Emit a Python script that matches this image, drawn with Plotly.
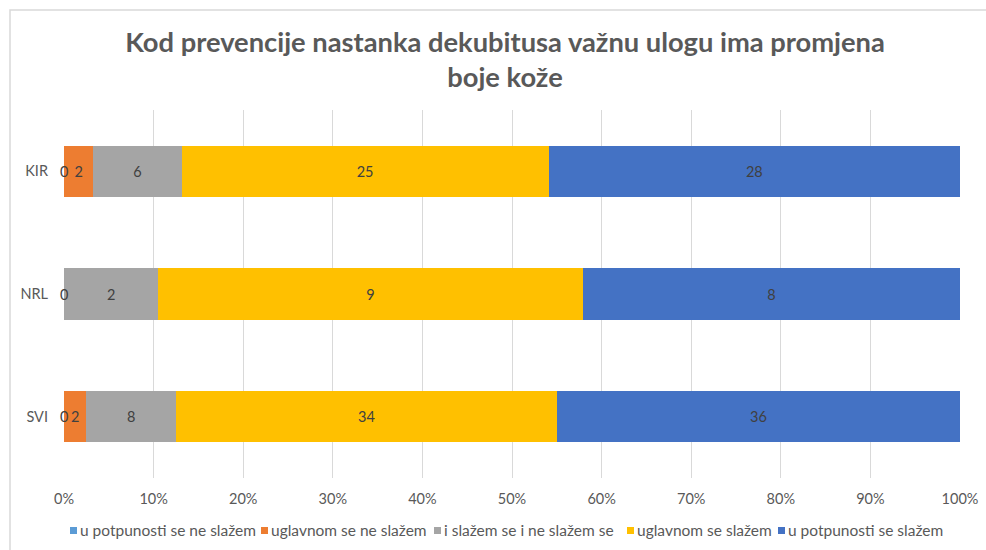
import plotly.graph_objects as go

categories = ["SVI", "NRL", "KIR"]
series_names = [
    "u potpunosti se ne slažem",
    "uglavnom se ne slažem",
    "i slažem se i ne slažem se",
    "uglavnom se slažem",
    "u potpunosti se slažem",
]
ne_potpuno = [0, 0, 0]
ne_uglavnom = [2, 0, 2]
neutralno = [8, 2, 6]
da_uglavnom = [34, 9, 25]
da_potpuno = [36, 8, 28]
series_values = [ne_potpuno, ne_uglavnom, neutralno, da_uglavnom, da_potpuno]
colors = ["#5B9BD5", "#ED7D31", "#A5A5A5", "#FFC000", "#4472C4"]
x_tick_vals = [0, 10, 20, 30, 40, 50, 60, 70, 80, 90, 100]
x_tick_text = [f"{v}%" for v in x_tick_vals]

FONT = "Lato"
W, H = 986, 550
ML, MR, MT, MB = 64, 26, 110, 72
PW, PH = W - ML - MR, H - MT - MB


def px_x(p):
    return (p - ML) / PW


def px_y(p):
    return (H - MB - p) / PH


fig = go.Figure()
for name, vals, col in zip(series_names, series_values, colors):
    fig.add_trace(go.Bar(
        y=categories, x=vals, name=name, orientation="h",
        marker=dict(color=col, line=dict(width=0)),
        text=[str(v) if v != 0 else "" for v in vals],
        textposition="inside", insidetextanchor="middle", textangle=0,
        insidetextfont=dict(family=FONT, size=14.5, color="#404040"),
        constraintext="none", showlegend=False,
    ))

annotations = []
# labels for zero-value segments
for ci, cat in enumerate(categories):
    total = sum(s[ci] for s in series_values)
    cum = 0.0
    placed = set()
    for s in series_values:
        if s[ci] == 0:
            pos = round(cum / total * 100, 6)
            if pos not in placed:
                placed.add(pos)
                annotations.append(dict(
                    x=pos, y=cat, xref="x", yref="y", text="0", showarrow=False,
                    xanchor="center", font=dict(family=FONT, size=14.5, color="#404040")))
        cum += s[ci]

# legend drawn below the plot (pixel layout of the reference)
legend_square_px = [70, 261, 434, 627, 778]
legend_y_px = 530
shapes = []
for name, col, sx in zip(series_names, colors, legend_square_px):
    shapes.append(dict(
        type="rect", xref="paper", yref="paper",
        x0=px_x(sx), x1=px_x(sx + 7), y0=px_y(legend_y_px + 4), y1=px_y(legend_y_px - 3),
        fillcolor=col, line=dict(width=0)))
    annotations.append(dict(
        x=px_x(sx + 8), y=px_y(legend_y_px), xref="paper", yref="paper",
        text=name, showarrow=False, xanchor="left", yanchor="middle",
        font=dict(family=FONT, size=15.5, color="#595959")))

# chart frame
shapes.append(dict(
    type="rect", xref="paper", yref="paper",
    x0=px_x(10), x1=px_x(1100), y0=px_y(700), y1=px_y(10),
    line=dict(color="#d9d9d9", width=1.5), fillcolor="rgba(0,0,0,0)", layer="below"))

fig.update_layout(
    width=W, height=H,
    barmode="stack", barnorm="percent", bargap=0.584,
    paper_bgcolor="white", plot_bgcolor="white",
    margin=dict(l=ML, r=MR, t=MT, b=MB, autoexpand=False),
    title=dict(
        text="Kod prevencije nastanka dekubitusa važnu ulogu ima promjena<br>boje kože",
        x=505 / W, xanchor="center", y=1 - 51.5 / H, yanchor="top",
        font=dict(family=FONT, size=27.3, color="#595959", weight="bold"),
    ),
    xaxis=dict(
        range=[0, 100], tickvals=x_tick_vals, ticktext=x_tick_text,
        showgrid=True, gridcolor="#d9d9d9", gridwidth=1,
        zeroline=False, showline=False, ticks="", automargin=False,
        tickfont=dict(family=FONT, size=14.5, color="#595959"),
        ticklabelstandoff=10, fixedrange=True,
    ),
    yaxis=dict(
        categoryorder="array", categoryarray=categories,
        showgrid=False, zeroline=False, showline=False, ticks="", automargin=False,
        tickfont=dict(family=FONT, size=14.5, color="#595959"),
        ticklabelstandoff=15,
    ),
    annotations=annotations,
    shapes=shapes,
    showlegend=False,
)

fig.write_html(
    "out.html",
    config={"displayModeBar": False},
    post_script="document.body.style.margin='0';document.body.style.padding='0';",
)
